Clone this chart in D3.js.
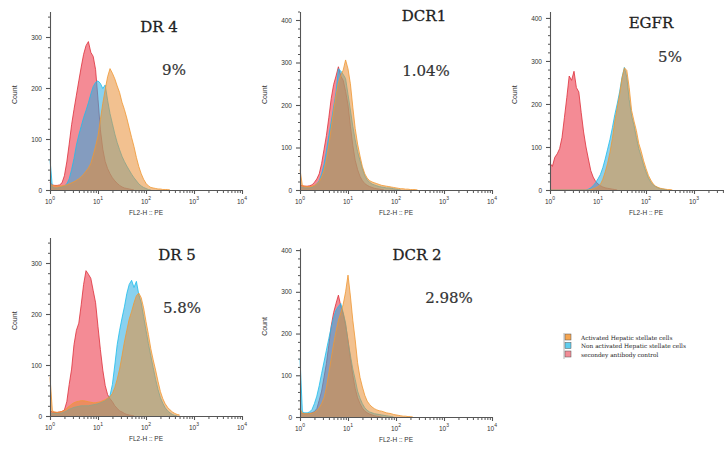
<!DOCTYPE html>
<html><head><meta charset="utf-8">
<script src="https://cdn.jsdelivr.net/npm/d3@7"></script>
<style>body{margin:0;background:#fff;} svg{display:block;font-family:"Liberation Sans",Arial,sans-serif;}</style>
</head><body>
<svg id="c" width="724" height="457"></svg>
<script>
// bin centres, log10 of FL2-H intensity
const bins = [0,0.05,0.1,0.15,0.2,0.25,0.3,0.35,0.4,0.45,0.5,0.55,0.6,0.65,0.7,0.75,0.8,0.85,0.9,0.95,1,1.05,1.1,1.15,1.2,1.25,1.3,1.35,1.4,1.45,1.5,1.55,1.6,1.65,1.7,1.75,1.8,1.85,1.9,1.95,2,2.05,2.1,2.15,2.2,2.25,2.3,2.35,2.4,2.45,2.5,2.55,2.6,2.65,2.7];

const titles = ["DR 4","DCR1","EGFR","DR 5","DCR 2"];
const percents = ["9%","1.04%","5%","5.8%","2.98%"];
const yMaxes = [350,420,415,350,405];
const yTickSets = [[0,100,200,300],[0,100,200,300,400],[0,100,200,300,400],[0,100,200,300],[0,100,200,300,400]];
const xTickValues = [1,10,100,1000,10000];
const xTickExponents = ["0","1","2","3","4"];
const legendLabels = ["Activated Hepatic stellate cells","Non activated Hepatic stellate cells","secondey antibody control"];

// counts per bin — secondary antibody control (red)
const dr4Red  = [15,10,9,9,10,14,28,55,90,128,158,186,214,241,266,283,291,270,262,236,178,118,80,56,42,32,24,18,13,9,6,4,3,2,1,0];
const dcr1Red = [12,10,9,9,10,12,18,26,38,62,95,128,170,215,248,268,290,268,258,232,200,150,105,70,48,32,22,15,11,8,6,4,3,2,1,0];
const egfrRed = [62,55,76,84,96,122,168,215,265,255,276,238,228,180,135,100,72,45,30,20,14,10,7,5,4,3,2,1,0];
const dr5Red  = [10,8,7,7,8,9,12,28,62,92,140,168,182,218,258,285,278,270,246,222,175,130,90,60,42,34,28,20,15,10,8,5,3,2,1,0];
const dcr2Red = [10,9,8,8,9,10,13,20,40,62,95,128,172,218,250,272,292,266,248,220,185,140,100,68,46,32,21,14,10,7,5,3,2,1,0];

// non activated hepatic stellate cells (blue)
const dr4Blue  = [60,5,4,4,5,6,8,12,22,40,62,88,108,125,142,156,171,188,203,211,214,209,199,206,176,150,130,110,93,79,66,56,47,39,31,24,18,12,8,5,3,1,0];
const dcr1Blue = [8,6,5,5,5,6,9,14,22,38,60,92,128,160,195,230,285,280,272,262,225,188,150,118,90,70,50,33,24,18,14,12,10,8,7,6,5,5,4,3,2,1,0];
const egfrBlue = [0,0,0,0,0,0,0,0,0,0,0,0,0,0,0,0,2,5,10,17,26,36,52,72,95,118,145,175,200,228,262,285,262,210,172,150,122,96,78,58,42,28,18,12,8,5,3,2,1,0];
const dr5Blue  = [6,5,5,5,5,6,8,10,13,15,17,18,19,20,20,20,20,21,22,23,24,26,28,30,34,40,62,100,140,168,192,214,240,258,266,252,264,238,222,195,168,142,118,95,72,52,36,25,16,10,6,3,1,0];
const dcr2Blue = [140,12,10,10,12,18,32,50,75,104,132,160,188,215,238,256,265,272,250,225,180,148,115,90,62,45,32,22,16,12,10,8,7,6,5,4,3,2,1,0];

// activated hepatic stellate cells (orange)
const dr4Orange  = [12,9,8,8,8,8,9,10,12,14,16,19,22,26,31,37,43,52,68,86,106,138,170,197,222,238,229,218,204,191,172,158,141,122,103,85,64,46,32,21,13,8,5,4,3,2,2,1,1,1,0];
const dcr1Orange = [48,10,9,8,8,9,11,14,20,30,45,70,105,145,185,222,252,270,282,306,285,250,195,145,108,80,55,38,28,22,19,17,15,13,11,10,9,8,7,6,5,4,3,3,2,2,1,1,1,0];
const egfrOrange = [0,0,0,0,0,0,0,0,0,0,0,0,0,0,0,0,0,1,3,5,8,13,25,42,62,88,120,160,190,222,260,284,278,238,185,160,138,108,90,68,50,34,23,14,9,6,4,3,2,1,1,0];
const dr5Orange  = [76,10,8,7,8,9,11,15,19,23,26,28,29,30,30,29,28,27,26,26,27,28,30,32,35,38,44,56,72,92,118,145,168,190,205,222,236,241,232,212,185,160,132,110,90,68,48,34,24,17,12,8,5,3,2];
const dcr2Orange = [20,9,8,8,8,9,11,15,22,32,46,70,105,140,175,205,232,250,270,300,340,290,232,185,130,95,72,52,38,30,24,20,17,15,14,12,10,9,8,6,5,4,3,2,2,1,1,0];

const panelData = [
  {red: dr4Red,  blue: dr4Blue,  orange: dr4Orange},
  {red: dcr1Red, blue: dcr1Blue, orange: dcr1Orange},
  {red: egfrRed, blue: egfrBlue, orange: egfrOrange},
  {red: dr5Red,  blue: dr5Blue,  orange: dr5Orange},
  {red: dcr2Red, blue: dcr2Blue, orange: dcr2Orange}
];

// layout (pixels)
const layout = [
  {x0:50,  y0:190, h:178.5, tx:159, ty:32,  px:174, py:75},
  {x0:300, y0:190, h:178.5, tx:424, ty:21,  px:426, py:76},
  {x0:550, y0:190, h:178.5, tx:651, ty:28,  px:670, py:62},
  {x0:50,  y0:416, h:178.5, tx:177, ty:260, px:182, py:313},
  {x0:300, y0:417, h:169,   tx:417, ty:260, px:449, py:303}
];
const styles = {
  red:    {fill:"rgb(236,62,78)",  op:0.6,  stroke:"rgb(222,48,60)"},
  blue:   {fill:"rgb(40,172,226)", op:0.55, stroke:"rgb(30,190,236)"},
  orange: {fill:"rgb(232,142,52)", op:0.55, stroke:"rgb(240,152,52)"}
};
const order = ["red","blue","orange"];
const axisColor = "#555";
const svg = d3.select("#c");

panelData.forEach((pd, k) => {
  const L = layout[k];
  const x = d3.scaleLog().domain([1,1e4]).range([L.x0, L.x0 + 192]);
  const y = d3.scaleLinear().domain([0, yMaxes[k]]).range([L.y0, L.y0 - L.h]);
  const g = svg.append("g");

  order.forEach(key => {
    const vals = pd[key];
    const pts = vals.map((v,i) => [Math.pow(10, bins[i]), v]);
    const st = styles[key];
    g.append("path")
      .attr("d", d3.area().x(d => x(d[0])).y0(y(0)).y1(d => y(d[1]))(pts))
      .attr("fill", st.fill).attr("fill-opacity", st.op);
    g.append("path")
      .attr("d", d3.line().x(d => x(d[0])).y(d => y(d[1]))(pts))
      .attr("fill", "none").attr("stroke", st.stroke).attr("stroke-width", 0.9).attr("stroke-opacity", 0.9);
  });

  // y axis minor
  const minor = d3.range(0, yMaxes[k] + 1, 20).filter(v => v % 100 !== 0);
  const ym = g.append("g").attr("transform", `translate(${L.x0},0)`)
    .call(d3.axisLeft(y).tickValues(minor).tickSize(2).tickFormat(""));
  ym.select(".domain").remove();
  ym.selectAll("line").attr("stroke", axisColor);
  // y axis major
  const ya = g.append("g").attr("transform", `translate(${L.x0},0)`)
    .call(d3.axisLeft(y).tickValues(yTickSets[k]).tickSize(4).tickSizeOuter(0).tickPadding(4).tickFormat(d3.format("d")));
  ya.select(".domain").attr("stroke", axisColor).attr("stroke-width", 1.1);
  ya.selectAll("line").attr("stroke", axisColor).attr("stroke-width", 1.1);
  ya.selectAll("text").attr("font-size", 6.5).attr("fill", "#333").attr("font-family", "Liberation Sans, Arial, sans-serif");

  // x axis minor
  const xminor = [];
  [1,10,100,1000].forEach(d => [2,3,4,5,6,7,8,9].forEach(m => xminor.push(d*m)));
  const xm = g.append("g").attr("transform", `translate(0,${L.y0})`)
    .call(d3.axisBottom(x).tickValues(xminor).tickSize(3).tickFormat(""));
  xm.select(".domain").remove();
  xm.selectAll("line").attr("stroke", axisColor);
  const xa = g.append("g").attr("transform", `translate(0,${L.y0})`)
    .call(d3.axisBottom(x).tickValues(xTickValues).tickSize(4).tickSizeOuter(0).tickFormat(""));
  xa.select(".domain").attr("stroke", axisColor).attr("stroke-width", 1.1);
  xa.selectAll("line").attr("stroke", axisColor).attr("stroke-width", 1.1);
  xTickValues.forEach((v, i) => {
    const t = g.append("text").attr("x", x(v)).attr("y", L.y0 + 14)
      .attr("text-anchor", "middle").attr("font-size", 6.5).attr("fill", "#333");
    t.append("tspan").text("10");
    t.append("tspan").attr("dy", -4).attr("font-size", 5).text(xTickExponents[i]);
  });
  g.append("text").attr("x", L.x0 + 96).attr("y", L.y0 + 25).attr("text-anchor", "middle")
    .attr("font-size", 6.5).attr("fill", "#333").text("FL2-H :: PE");
  g.append("text").attr("transform", `translate(${L.x0 - 33},${L.y0 - L.h/2 - 6}) rotate(-90)`)
    .attr("text-anchor", "middle").attr("font-size", 7).attr("fill", "#333").text("Count");

  g.append("text").attr("x", L.tx).attr("y", L.ty).attr("text-anchor", "middle")
    .attr("font-family", "DejaVu Serif, serif").attr("font-size", 15).attr("fill", "#222")
    .attr("stroke", "#222").attr("stroke-width", 0.3).text(titles[k]);
  g.append("text").attr("x", L.px).attr("y", L.py).attr("text-anchor", "middle")
    .attr("font-family", "DejaVu Serif, serif").attr("font-size", 15).attr("fill", "#333")
    .attr("stroke", "#333").attr("stroke-width", 0.2).text(percents[k]);
});

// legend
const legendColors = ["rgb(245,165,80)","rgb(95,205,238)","rgb(242,140,150)"];
const lg = svg.append("g").attr("transform", "translate(565,334)");
lg.append("path").attr("d", "M-1,-1 v26").attr("stroke", "#888").attr("stroke-width", 0.6).attr("fill","none");
legendLabels.forEach((lab, i) => {
  lg.append("rect").attr("x", 0).attr("y", i*8.5).attr("width", 6).attr("height", 6)
    .attr("fill", legendColors[i]).attr("stroke", "#555").attr("stroke-width", 0.5);
  lg.append("text").attr("x", 16).attr("y", i*8.5 + 5.5).attr("font-family", "DejaVu Serif, serif")
    .attr("font-size", 5.8).attr("fill", "#222").text(lab);
});
</script>
</body></html>
